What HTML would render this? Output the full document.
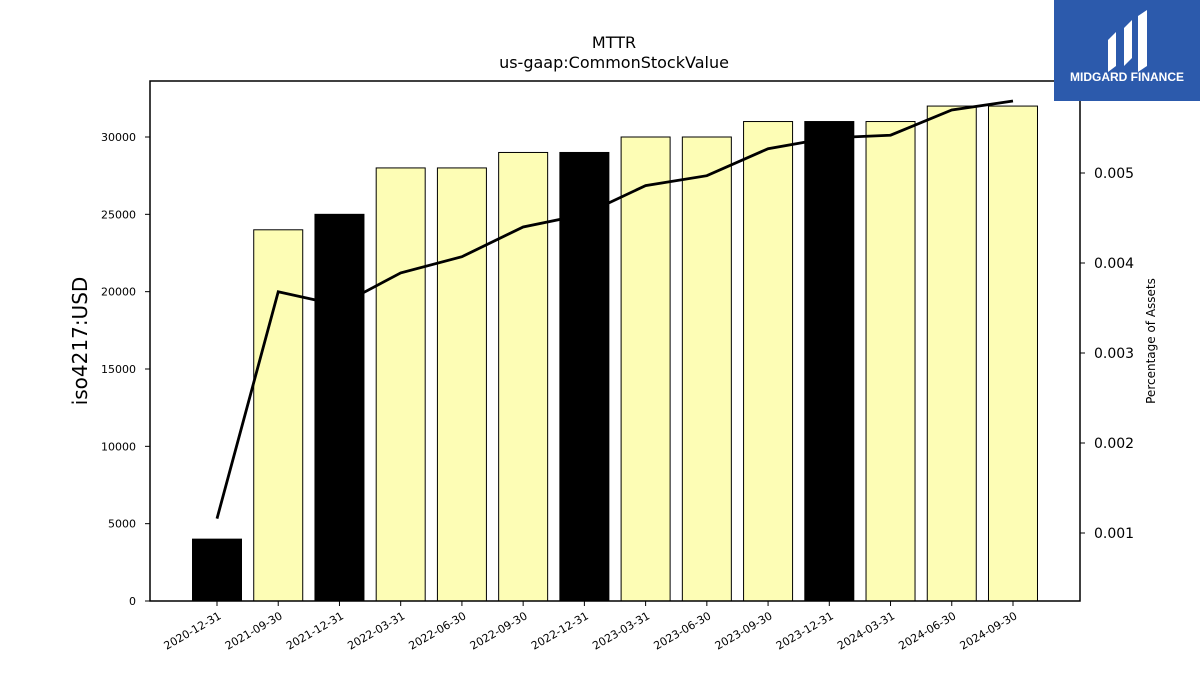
<!DOCTYPE html>
<html><head><meta charset="utf-8"><style>
body{margin:0;background:#fff;font-family:"Liberation Sans","DejaVu Sans",sans-serif}
svg text{font-family:"DejaVu Sans","Liberation Sans",sans-serif}
</style></head><body>
<svg id="c" width="1200" height="675" xmlns="http://www.w3.org/2000/svg">
<text x="614" y="48" font-size="16" text-anchor="middle">MTTR</text>
<text x="614" y="68" font-size="16" text-anchor="middle">us-gaap:CommonStockValue</text>
<g id="bars"></g>
<g id="line"></g>
<rect x="150" y="81" width="930" height="520" fill="none" stroke="#000" stroke-width="1.5"/>
<g id="axes"></g>
<text transform="translate(87,341) rotate(-90)" font-size="20" text-anchor="middle">iso4217:USD</text>
<text transform="translate(1155,341) rotate(-90)" font-size="12" text-anchor="middle">Percentage of Assets</text>
<g>
<rect x="1054" y="0" width="146" height="101" fill="#2c5aac"/>
<path d="M1108,40 L1116,32 L1116,66 L1108,72 Z" fill="#fff"/>
<path d="M1124,28 L1132,20 L1132,58 L1124,66 Z" fill="#fff"/>
<path d="M1138,16 L1147,10 L1147,66 L1138,72 Z" fill="#fff"/>
<text x="1127" y="81" font-size="12" font-weight="bold" fill="#fff" text-anchor="middle" style="font-family:'Liberation Sans',sans-serif">MIDGARD FINANCE</text>
</g>
</svg>
<script>
const categories=["2020-12-31","2021-09-30","2021-12-31","2022-03-31","2022-06-30","2022-09-30","2022-12-31","2023-03-31","2023-06-30","2023-09-30","2023-12-31","2024-03-31","2024-06-30","2024-09-30"];
const barValues=[4000,24000,25000,28000,28000,29000,29000,30000,30000,31000,31000,31000,32000,32000];
const pctValues=[0.00116,0.00368,0.00353,0.00389,0.00407,0.0044,0.00454,0.00486,0.00497,0.00527,0.00539,0.00542,0.0057,0.0058];
const leftTicks=[0,5000,10000,15000,20000,25000,30000];
const rightTicks=[0.001,0.002,0.003,0.004,0.005];
const NS="http://www.w3.org/2000/svg";
const xS=i=>217+i*61.23;
const yL=v=>601-v*(464/30000);
const yR=v=>173-(v-0.005)*90000;
function mk(t,a,p){const e=document.createElementNS(NS,t);for(const k in a)e.setAttribute(k,a[k]);p.appendChild(e);return e;}
const bars=document.getElementById('bars'),line=document.getElementById('line'),axes=document.getElementById('axes');
barValues.forEach((v,i)=>{
 const black=categories[i].endsWith('12-31');
 const r=mk('rect',{x:xS(i)-24.5,y:yL(v),width:49,height:601-yL(v),fill:black?'#000':'#fdfdb5',stroke:'#000','stroke-width':1},bars);
 
 
});
const pl=mk('polyline',{points:pctValues.map((v,i)=>xS(i)+','+yR(v)).join(' '),fill:'none',stroke:'#000','stroke-width':2.8},line);


leftTicks.forEach(v=>{
 mk('line',{x1:145,x2:150,y1:yL(v),y2:yL(v),stroke:'#000'},axes);
 const t=mk('text',{x:136,y:yL(v)+4,'font-size':11,'text-anchor':'end'},axes);t.textContent=v;
 
 
});
rightTicks.forEach(v=>{
 mk('line',{x1:1080,x2:1085,y1:yR(v),y2:yR(v),stroke:'#000'},axes);
 const t=mk('text',{x:1094,y:yR(v)+5,'font-size':14},axes);t.textContent=v.toFixed(3);
 
 
});
categories.forEach((c,i)=>{
 mk('line',{x1:xS(i),x2:xS(i),y1:601,y2:606,stroke:'#000'},axes);
 const t=mk('text',{'font-size':11,'text-anchor':'end',transform:`translate(${xS(i)+5},${618}) rotate(-30)`},axes);t.textContent=c;
 
 
});
</script>
</body></html>
